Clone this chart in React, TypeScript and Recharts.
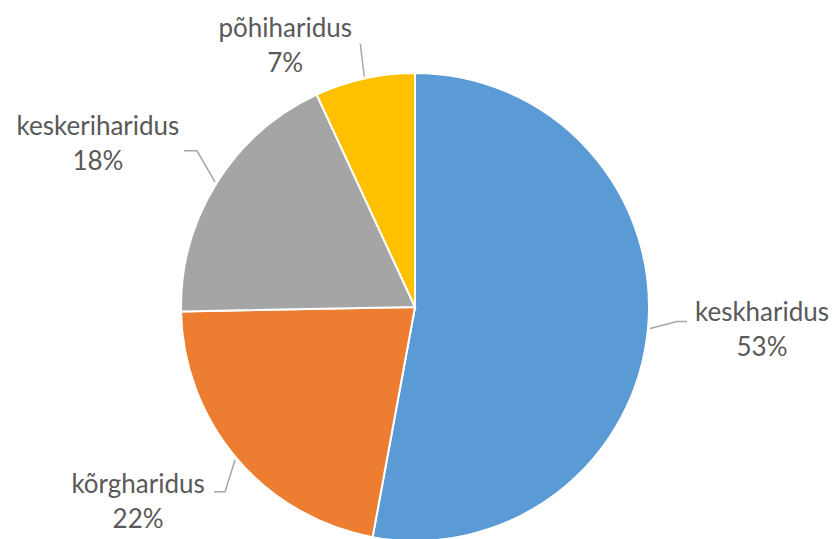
import React from 'react';
import { PieChart, Pie, Cell } from 'recharts';

const categories = ['keskharidus', 'kõrgharidus', 'keskeriharidus', 'põhiharidus'];
const shares = [52.9, 21.8, 18.4, 6.9];
const colors = ['#5B9BD5', '#ED7D31', '#A5A5A5', '#FFC000'];

// leader line layout per slice: elbow offset from the slice edge, horizontal tail, text centre & baseline from the tail end
const labelLayout = [
    { ex: 27, ey: -7, tail: 10, tx: 75, ty: 0 },
    { ex: -10, ey: 32, tail: -11, tx: -76, ty: 1 },
    { ex: -18, ey: -31, tail: -13, tx: -86, ty: -16 },
    { ex: -4, ey: -33, tail: 0, tx: -75, ty: -7 },
];

const RADIAN = Math.PI / 180;
const FONT = "Lato, 'Open Sans', sans-serif";

const chartData = categories.map((name, i) => ({ name, value: shares[i] }));

function renderLabel(props: any) {
    const { cx, cy, midAngle, outerRadius, percent, index, name } = props;
    const lay = labelLayout[index];
    const sx = cx + (outerRadius + 2) * Math.cos(-midAngle * RADIAN);
    const sy = cy + (outerRadius + 2) * Math.sin(-midAngle * RADIAN);
    const mx = sx + lay.ex;
    const my = sy + lay.ey;
    const endX = mx + lay.tail;
    const tx = endX + lay.tx;
    const ty = my + lay.ty;
    return (
        <g>
            <polyline
                points={`${sx},${sy} ${mx},${my} ${endX},${my}`}
                fill="none"
                stroke="#A6A6A6"
                strokeWidth={1.5}
            />
            <text x={tx} y={ty} textAnchor="middle" fill="#595959" fontSize={26} fontFamily={FONT}>
                {name}
            </text>
            <text x={tx} y={ty + 35} textAnchor="middle" fill="#595959" fontSize={26} fontFamily={FONT}>
                {`${Math.round(percent * 100)}%`}
            </text>
        </g>
    );
}

export default function App() {
    return (
        <div style={{ position: 'absolute', left: 0, top: 0, width: 834, height: 539, background: '#fff' }}>
            <PieChart width={834} height={539}>
                <Pie
                    data={chartData}
                    dataKey="value"
                    nameKey="name"
                    cx={410}
                    cy={302}
                    outerRadius={234}
                    startAngle={90}
                    endAngle={-270}
                    stroke="#fff"
                    strokeWidth={2}
                    label={renderLabel}
                    labelLine={false}
                    isAnimationActive={false}
                >
                    {chartData.map((d, i) => (
                        <Cell key={d.name} fill={colors[i]} />
                    ))}
                </Pie>
            </PieChart>
        </div>
    );
}
